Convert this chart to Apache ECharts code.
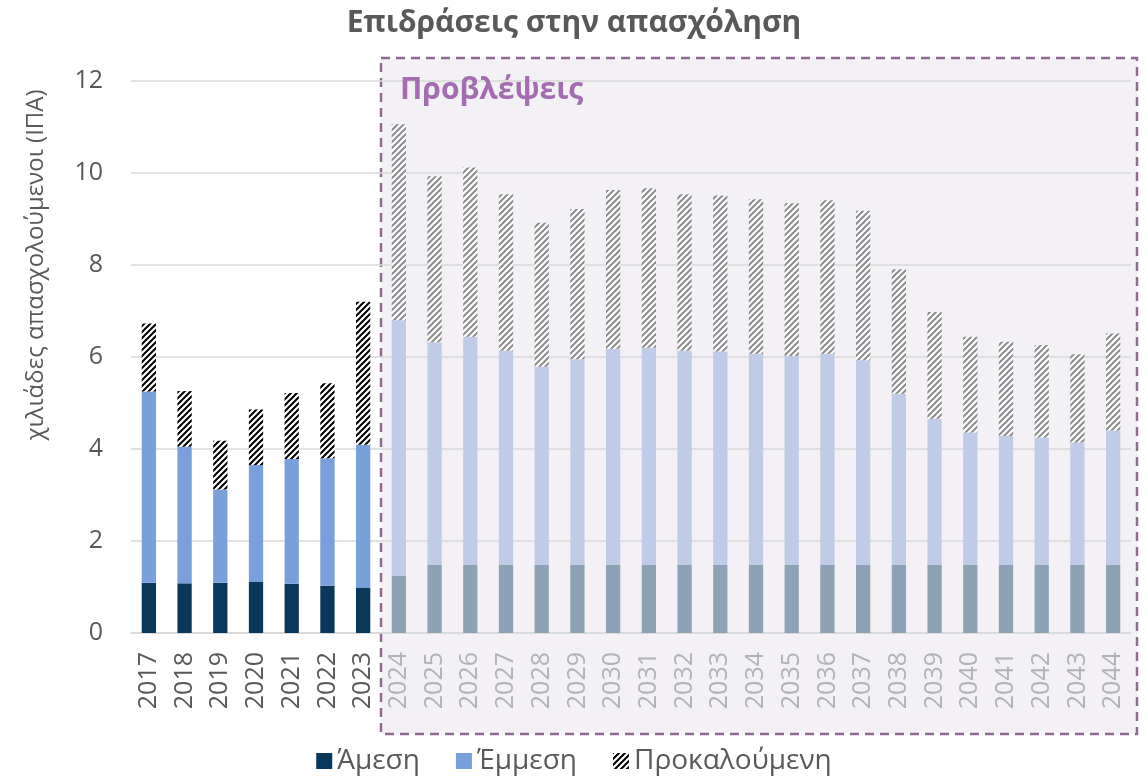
<!DOCTYPE html>
<html>
<head>
<meta charset="utf-8">
<script src="https://cdn.jsdelivr.net/npm/echarts@6/dist/echarts.min.js"></script>
<style>
  html, body { margin: 0; padding: 0; background: #fff; }
  #main { width: 1148px; height: 778px; }
</style>
</head>
<body>
<div id="main"></div>
<script>
var years = ['2017','2018','2019','2020','2021','2022','2023','2024','2025','2026','2027','2028','2029','2030',
             '2031','2032','2033','2034','2035','2036','2037','2038','2039','2040','2041','2042','2043','2044'];
var firstForecast = '2024';

// thousands of jobs (FTE)
var direct = [1.09, 1.08, 1.09, 1.11, 1.07, 1.03, 0.99, 1.24, 1.48, 1.48, 1.48, 1.48, 1.48, 1.48,
              1.48, 1.48, 1.48, 1.48, 1.48, 1.48, 1.48, 1.48, 1.48, 1.48, 1.48, 1.48, 1.48, 1.48];
var indirect = [4.16, 2.97, 2.03, 2.54, 2.71, 2.77, 3.10, 5.56, 4.84, 4.96, 4.66, 4.31, 4.47, 4.70,
                4.72, 4.66, 4.64, 4.59, 4.54, 4.59, 4.45, 3.72, 3.18, 2.88, 2.80, 2.77, 2.66, 2.92];
var induced = [1.48, 1.21, 1.06, 1.21, 1.44, 1.63, 3.11, 4.26, 3.61, 3.68, 3.40, 3.13, 3.27, 3.45,
               3.47, 3.40, 3.39, 3.36, 3.32, 3.34, 3.25, 2.71, 2.32, 2.08, 2.05, 2.01, 1.92, 2.11];

var yTicks = { min: 0, max: 12, interval: 2 };

var dom = document.getElementById('main');
var myChart = echarts.init(dom);

function hatch(stripe, bg) {
    var c = document.createElement('canvas');
    c.width = 6;
    c.height = 6;
    var ctx = c.getContext('2d');
    ctx.fillStyle = bg;
    ctx.fillRect(0, 0, 6, 6);
    ctx.strokeStyle = stripe;
    ctx.lineWidth = 2;
    ctx.beginPath();
    ctx.moveTo(-1, 7); ctx.lineTo(7, -1);
    ctx.moveTo(-4, 4); ctx.lineTo(4, -4);
    ctx.moveTo(2, 10); ctx.lineTo(10, 2);
    ctx.stroke();
    return { image: c, repeat: 'repeat' };
}

var fIdx = years.indexOf(firstForecast);
var textColor = '#595959';

function withForecast(values, color) {
    return values.map(function (v, i) {
        return i >= fIdx ? { value: v, itemStyle: { color: color } } : v;
    });
}

var option = {
    animation: false,
    textStyle: { fontFamily: 'Open Sans' },
    title: {
        text: 'Επιδράσεις στην απασχόληση',
        left: 'center',
        top: 3,
        textStyle: { fontSize: 30, fontWeight: 'bold', color: textColor, fontFamily: 'Open Sans' }
    },
    legend: {
        bottom: -2,
        left: 'center',
        itemWidth: 16,
        itemHeight: 16,
        itemGap: 36,
        icon: 'rect',
        textStyle: { fontSize: 28, color: textColor }
    },
    grid: { left: 131, right: 17, top: 81, bottom: 145 },
    xAxis: {
        type: 'category',
        data: years,
        axisTick: { show: false },
        axisLine: { lineStyle: { color: '#d9d9d9', width: 1.5 } },
        axisLabel: {
            rotate: 90,
            fontSize: 25,
            margin: 19,
            interval: 0,
            color: function (v, i) {
                return years.indexOf(v) >= fIdx ? '#b3b3b3' : textColor;
            }
        }
    },
    yAxis: {
        type: 'value',
        min: yTicks.min,
        max: yTicks.max,
        interval: yTicks.interval,
        axisLabel: { fontSize: 25, color: textColor, margin: 28 },
        splitLine: { lineStyle: { color: '#d9d9d9', width: 1.5 } }
    },
    series: [
        {
            name: 'Άμεση',
            type: 'bar',
            stack: 'total',
            barWidth: '40%',
            itemStyle: { color: '#0a385d' },
            data: withForecast(direct, '#8ea2b5')
        },
        {
            name: 'Έμμεση',
            type: 'bar',
            stack: 'total',
            itemStyle: { color: '#7aa0dc' },
            data: withForecast(indirect, '#c0cbe8')
        },
        {
            name: 'Προκαλούμενη',
            type: 'bar',
            stack: 'total',
            itemStyle: { color: hatch('#000000', '#ffffff') },
            data: withForecast(induced, hatch('#8c8c8c', '#ffffff'))
        }
    ]
};

myChart.setOption(option, true);

// forecast box starts halfway between the last actual year and the first forecast year
var xa = myChart.convertToPixel({ xAxisIndex: 0 }, years[fIdx - 1]);
var xb = myChart.convertToPixel({ xAxisIndex: 0 }, years[fIdx]);
var boxLeft = (xa + xb) / 2;

myChart.setOption({
    graphic: [
        {
            type: 'rect',
            z: -10,
            silent: true,
            shape: { x: boxLeft, y: 58, width: 1137 - boxLeft, height: 676 },
            style: { fill: '#f3f1f5', stroke: '#8e6b90', lineWidth: 2.5, lineDash: [9, 6] }
        },
        {
            type: 'text',
            z: 10,
            left: boxLeft + 19,
            top: 75,
            style: { text: 'Προβλέψεις', fill: '#a46cb1', font: 'bold 30px "Open Sans"' }
        },
        {
            type: 'text',
            x: 36,
            y: 265,
            rotation: Math.PI / 2,
            style: {
                text: 'χιλιάδες απασχολούμενοι (ΙΠΑ)',
                fill: textColor,
                font: '24px "Open Sans"',
                align: 'center',
                verticalAlign: 'middle'
            }
        }
    ]
});
</script>
</body>
</html>
